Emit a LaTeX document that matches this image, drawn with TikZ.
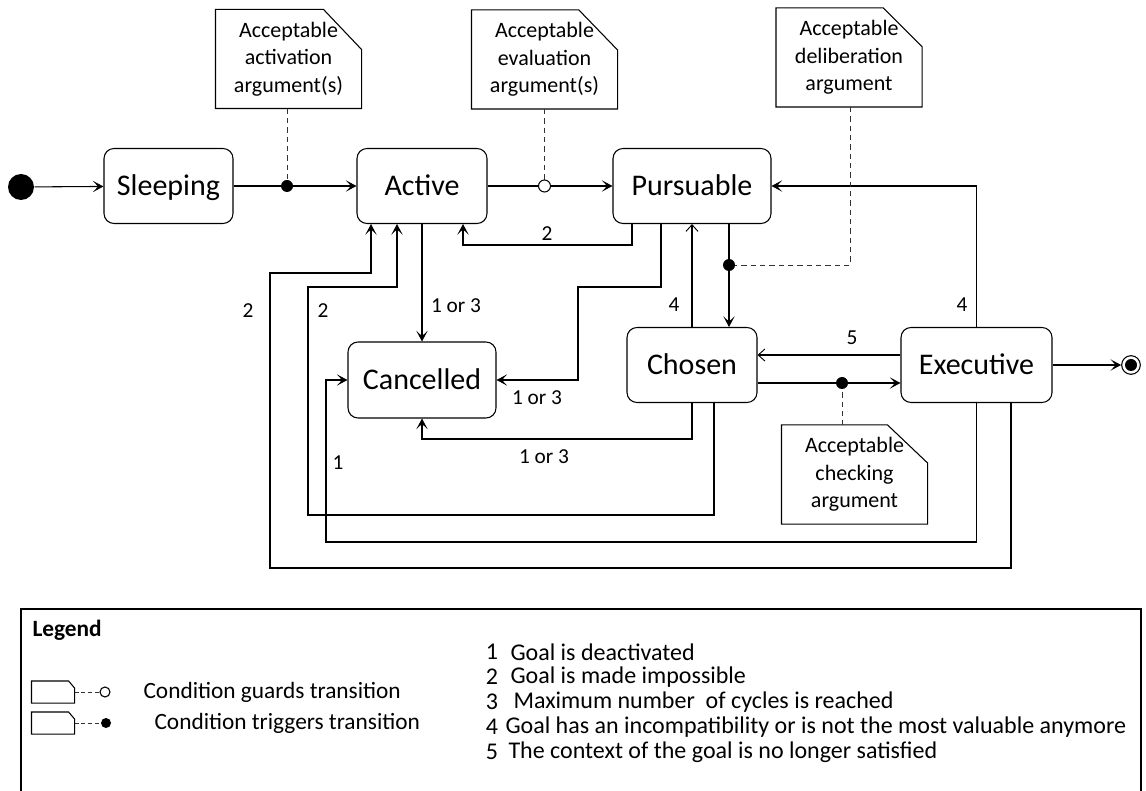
\documentclass[tikz,border=0pt]{standalone}
\usepackage{fontspec}
\setmainfont{Carlito}
\usetikzlibrary{arrows.meta,calc}

% outline of a note with a cut top-right corner
\newcommand\cutnote[3]{%
  \draw (#1.south west) -- (#1.north west) -- ([xshift=-#2]#1.north east)
        -- ([yshift=-#3]#1.north east) -- (#1.south east) -- cycle;}

\begin{document}
\begin{tikzpicture}[x=0.75pt,y=-0.75pt,line width=0.8pt,
  state/.style={draw,rounded corners=7.5pt,minimum height=56.25pt,inner sep=0pt,
                text height=15.5pt,text depth=1.5pt,
                font=\fontsize{22.5}{26}\selectfont},
  note/.style={inner sep=0pt,align=center,minimum width=108.75pt,minimum height=73.5pt,
               font=\fontsize{16.5}{20.6}\selectfont},
  lbl/.style={inner sep=0pt,font=\fontsize{16}{19}\selectfont},
  trig/.style={circle,fill=black,inner sep=0pt,minimum size=9pt},
  guard/.style={circle,draw,fill=white,inner sep=0pt,minimum size=9pt},
  arr/.style={-{Stealth[length=8pt,width=8.5pt,inset=4pt]}},
  thinarr/.style={-{Straight Barb[length=5pt,width=9pt,line width=0.7pt]}},
  cond/.style={black!80,line width=0.7pt,dash pattern=on 4pt off 3pt},
  legtext/.style={inner sep=0pt,font=\fontsize{17.5}{21}\selectfont},
  listtext/.style={inner sep=0pt,anchor=west,font=\fontsize{18}{21}\selectfont},
  listnum/.style={inner sep=0pt,font=\fontsize{18}{21}\selectfont},
  mininote/.style={inner sep=0pt,minimum width=31.5pt,minimum height=15.75pt},
]
\useasboundingbox (0,0) rectangle (1146,791);

% ---- states ----
\node[circle,fill=black,inner sep=0pt,minimum size=19.5pt] (start) at (21,187) {};
\node[state,minimum width=96.75pt]  (sleep)  at (168.5,186) {Sleeping};
\node[state,minimum width=97.5pt]   (active) at (422,186)   {Active};
\node[state,minimum width=118.5pt]  (purs)   at (692,186)   {Pursuable};
\node[state,minimum width=111pt,minimum height=57pt] (canc) at (422,380) {Cancelled};
\node[state,minimum width=97.5pt]   (chosen) at (692,365)   {Chosen};
\node[state,minimum width=113.25pt] (exec)   at (976.5,365) {Executive};
\node[circle,draw,fill=white,inner sep=0pt,minimum size=14pt] (final) at (1131,365) {};
\node[circle,fill=black,inner sep=0pt,minimum size=9pt] (finalin) at (final.center) {};

% ---- notes ----
\node[note] (n1) at (288.5,59)   {Acceptable\\activation\\argument(s)};
\node[note] (n2) at (544.5,59.5) {Acceptable\\evaluation\\argument(s)};
\node[note] (n3) at (849,57.5)   {Acceptable\\deliberation\\argument};
\node[note] (n4) at (854.5,474.5) {Acceptable\\checking\\argument};
\cutnote{n1}{28.5pt}{30pt}
\cutnote{n2}{29pt}{30pt}
\cutnote{n3}{29pt}{29pt}
\cutnote{n4}{30pt}{28.5pt}

% ---- transitions ----
\draw[arr] (start) -- (sleep);
\draw[arr] (sleep) -- (active);
\draw[arr] (active) -- (purs);
\draw[arr] (purs.south -| 632,0) |- (463,245) -- (active.south -| 463,0);
\draw[arr] (active) -- (canc);
\draw[arr] (purs.south -| 661,0) |- (578,287) |- (canc.east);
\draw[thinarr] (chosen) -- (purs);
\draw[arr] (purs.south -| 729,0) -- (chosen.north -| 729,0);
\draw[arr] (chosen.south) |- (422,439) -- (canc.south);
\draw[arr] (chosen.south -| 714,0) |- (308,515) |- (397,287) -- (active.south -| 397,0);
\draw[thinarr] (exec.west |- 0,355) -- (chosen.east |- 0,355);
\draw[arr] (chosen.east |- 0,383) -- (exec.west |- 0,383);
\draw[arr] (exec.north) |- (purs.east);
\draw[arr] (exec.south) |- (326,542) |- (canc.west);
\draw[arr] (exec.south -| 1011,0) |- (270,568) |- (371,273) -- (active.south -| 371,0);
\draw[arr] (exec) -- (final);

% ---- conditions attached to transitions ----
\draw[cond] (n1.south -| 287,0) -- (287,186);
\draw[cond] (n2.south -| 544.5,0) -- (544.5,186);
\draw[cond] (n3.south -| 850,0) |- (729,265);
\draw[cond] (842,383) -- (n4.north -| 842,0);
\node[trig]  (d1) at (287,186) {};
\node[guard] (g2) at (544.5,186) {};
\node[trig]  (d3) at (729,265) {};
\node[trig]  (d4) at (842,383) {};

% ---- transition labels ----
\node[lbl] (t1) at (547,234) {2};
\node[lbl] (t2) at (456,306) {1 or 3};
\node[lbl] (t3) at (537,398) {1 or 3};
\node[lbl] (t4) at (674,305) {4};
\node[lbl] (t5) at (544,457) {1 or 3};
\node[lbl] (t6) at (323,311) {2};
\node[lbl] (t7) at (338,463) {1};
\node[lbl] (t8) at (248,311) {2};
\node[lbl] (t9) at (852,338) {5};
\node[lbl] (t10) at (962,305) {4};

% ---- legend ----
\draw[line width=1.6pt] (21,800) -- (21,609) -- (1141,609) -- (1141,800);
\node[legtext,anchor=west,font=\fontsize{17.5}{21}\selectfont\bfseries] (lt) at (32,630) {Legend};

\node[mininote] (ln1) at (53,692) {};
\node[mininote] (ln2) at (53,723) {};
\cutnote{ln1}{4.5pt}{5.25pt}
\cutnote{ln2}{4.5pt}{5.25pt}
\node[circle,draw,fill=white,inner sep=0pt,minimum size=7.5pt] (lg1) at (105,692) {};
\node[circle,fill=black,inner sep=0pt,minimum size=7.5pt] (lg2) at (106,723) {};
\draw[cond,dash pattern=on 3pt off 2pt] (ln1.east) -- (lg1);
\draw[cond,dash pattern=on 3pt off 2pt] (ln2.east) -- (lg2);
\node[legtext,anchor=west] (lc1) at (143,692) {Condition guards transition};
\node[legtext,anchor=west] (lc2) at (154,723) {Condition triggers transition};

\node[listnum] (k1) at (492,652) {1};
\node[listnum] (k2) at (492,677) {2};
\node[listnum] (k3) at (492,702) {3};
\node[listnum] (k4) at (492,727) {4};
\node[listnum] (k5) at (492,752) {5};
\node[listtext] (l1) at (510,652) {Goal is deactivated};
\node[listtext] (l2) at (510,677) {Goal is made impossible};
\node[listtext] (l3) at (513,702) {Maximum number\ \ of cycles is reached};
\node[listtext] (l4) at (505,727) {Goal has an incompatibility or is not the most valuable anymore};
\node[listtext] (l5) at (508,752) {The context of the goal is no longer satisfied};
\end{tikzpicture}
\end{document}
